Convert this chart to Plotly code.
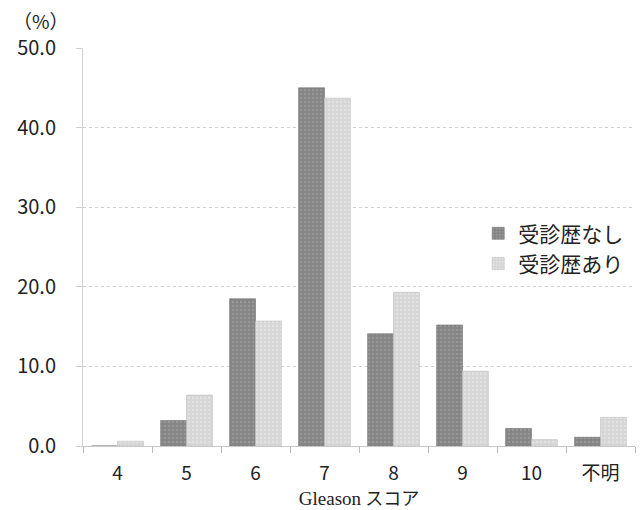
import plotly.graph_objects as go

categories = ["4", "5", "6", "7", "8", "9", "10", "不明"]
no_history = [0.0, 3.2, 18.5, 45.0, 14.1, 15.2, 2.2, 1.1]
with_history = [0.6, 6.4, 15.7, 43.7, 19.3, 9.4, 0.8, 3.6]
series_names = ["受診歴なし", "受診歴あり"]
y_ticks = [0, 10, 20, 30, 40, 50]
y_tick_labels = ["0.0", "10.0", "20.0", "30.0", "40.0", "50.0"]

jp_font = "Noto Sans CJK JP, Noto Sans, sans-serif"

fig = go.Figure()
fig.add_trace(go.Bar(
    x=categories, y=no_history, name=series_names[0],
    marker=dict(color="#8c8c8c", line=dict(color="#707070", width=0.6),
                pattern=dict(shape=".", fgcolor="#a8a8a8", bgcolor="#858585", size=4, solidity=0.3)),
))
fig.add_trace(go.Bar(
    x=categories, y=with_history, name=series_names[1],
    marker=dict(color="#dadada", line=dict(color="#bdbdbd", width=0.6),
                pattern=dict(shape=".", fgcolor="#eeeeee", bgcolor="#d6d6d6", size=4, solidity=0.3)),
))

fig.update_layout(
    width=643, height=510,
    margin=dict(l=83, r=8, t=48, b=64),
    paper_bgcolor="white", plot_bgcolor="white",
    barmode="group", bargap=0.25, bargroupgap=0,
    font=dict(family=jp_font, color="#222222", size=17),
    showlegend=True,
    legend=dict(x=0.716, y=0.585, xanchor="left", yanchor="top",
                font=dict(size=21, family=jp_font, color="#222222"),
                bgcolor="rgba(0,0,0,0)", itemwidth=30, tracegroupgap=0),
    xaxis=dict(
        type="category", showgrid=False,
        ticks="outside", tickson="boundaries", ticklen=6, tickcolor="#bbbbbb",
        showline=True, linecolor="#c8c8c8", linewidth=1,
        ticklabelstandoff=10,
        tickfont=dict(size=19, family=jp_font, color="#222222"),
        title=dict(text="<span style='font-family:Liberation Serif;font-size:19px'>Gleason</span> スコア",
                   font=dict(size=18, family=jp_font, color="#222222"), standoff=4),
    ),
    yaxis=dict(
        range=[0, 50], tickvals=y_ticks, ticktext=y_tick_labels,
        showgrid=True, gridcolor="#d0d0d0", gridwidth=1, griddash="dot",
        showline=True, linecolor="#d0d0d0", linewidth=1,
        ticks="outside", ticklen=6, tickcolor="#d0d0d0", ticklabelstandoff=16,
        tickfont=dict(size=20, family=jp_font, color="#222222"),
        zeroline=False,
    ),
)

fig.add_annotation(text="（%）", xref="paper", yref="paper", x=-0.076, y=1.0,
                   yshift=28, xanchor="center", yanchor="middle", showarrow=False,
                   font=dict(size=19, family=jp_font, color="#222222"))

fig.write_html("out.html")
